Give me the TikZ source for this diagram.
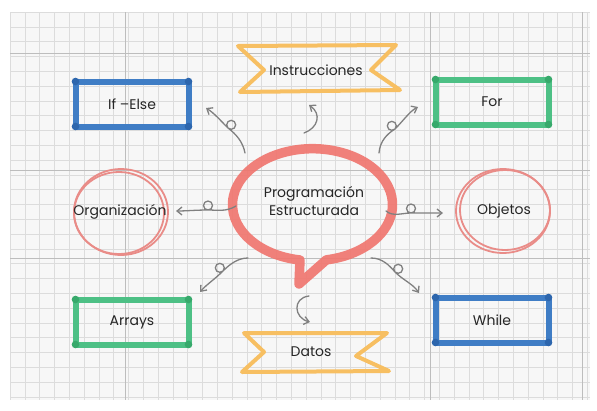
\documentclass[tikz,border=0pt]{standalone}
\usepackage{fontspec}
\setmainfont{Poppins}
\usetikzlibrary{arrows.meta}
\definecolor{gridbg}{HTML}{F7F7F7}
\definecolor{gridln}{HTML}{DCDCDC}
\definecolor{gridmaj}{HTML}{BDBDBD}
\definecolor{mblue}{HTML}{3F7DC5}
\definecolor{mbluedk}{HTML}{2D66AD}
\definecolor{mgreen}{HTML}{4DC085}
\definecolor{mgreendk}{HTML}{37A96B}
\definecolor{morange}{HTML}{F7BF62}
\definecolor{mred}{HTML}{F0746D}
\definecolor{mredlt}{HTML}{E98C88}
\definecolor{ink}{HTML}{262626}
\definecolor{curl}{HTML}{808080}
\begin{document}
\begin{tikzpicture}[x=1pt,y=-1pt,
  label/.style={font=\fontsize{14}{17}\selectfont, text=ink, inner sep=0pt},
  markbox/.style={draw=#1, line width=6pt, line join=round, outer sep=0pt,
    minimum width=113pt, minimum height=45pt,
    font=\fontsize{14}{17}\selectfont, text=ink},
  ribbon/.style={draw=morange, line width=4pt, line join=round, line cap=round},
  ring/.style={draw=mredlt, line width=1.8pt},
  conn/.style={draw=curl, line width=1.3pt, line cap=round, -{Straight Barb[length=5pt,width=8pt]}}]
\useasboundingbox (0,0) rectangle (597,410);
\fill[white] (0,0) rectangle (597,410);

% squared paper
\fill[gridbg] (10,12) rectangle (590,400);
\foreach \i in {0,...,39} \draw[gridln, line width=0.6pt] ({10+\i*14.8},12) -- ({10+\i*14.8},400);
\foreach \j in {0,...,26} \draw[gridln, line width=0.6pt] (10,{12+\j*14.8}) -- (590,{12+\j*14.8});
\foreach \y in {53,170,258} \draw[gridmaj, line width=0.6pt] (10,\y) -- (590,\y);
\foreach \x in {125,430,582} \draw[gridmaj, line width=0.6pt] (\x,12) -- (\x,400);

% central speech bubble
\draw[mred, line width=9.5pt, line join=round, opacity=0.9]
  (300,260) arc[start angle=99, end angle=440, x radius=80, y radius=56]
  -- (299,284) -- cycle;
\node[label, align=center] (center) at (314,201) {Programación\\[1pt]Estructurada};

% boxes
\node[markbox=mblue] (ifelse) at (132,104) {If –Else};
\node[markbox=mgreen] (for) at (492,102) {For};
\node[markbox=mgreen] (arrays) at (132,322) {Arrays};
\node[markbox=mblue] (while) at (492,320) {While};
\foreach \n/\c in {ifelse/mbluedk, for/mgreendk, arrays/mgreendk, while/mbluedk}
  \foreach \a in {north west, north east, south west, south east}
    \fill[\c] (\n.\a) circle (3.8pt);

% ribbons
\draw[ribbon] (238,46) -- (396,45) -- (371,70) -- (400,90) -- (240,92) -- (264,70) -- cycle;
\node[label] (instr) at (316,70) {Instrucciones};
\draw[ribbon] (244,333) -- (387,333) -- (356,356) -- (389,371) -- (242,372) -- (264,352) -- cycle;
\node[label] (datos) at (311,352) {Datos};

% rings
\draw[ring] (121,212) ellipse[x radius=47, y radius=43];
\draw[ring] (119,213) ellipse[x radius=45, y radius=41];
\node[label] (org) at (120,212) {Organización};
\draw[ring] (503,211) ellipse[x radius=47, y radius=42];
\draw[ring] (505,210) ellipse[x radius=45, y radius=40];
\node[label] (obj) at (504,211) {Objetos};

% connector ends
\coordinate (s1) at (245,153);  \coordinate (e1) at (206,108);
\coordinate (s2) at (304,133);  \coordinate (e2) at (309,105);
\coordinate (s3) at (379,153);  \coordinate (e3) at (418,107);
\coordinate (s4) at (236,206);  \coordinate (e4) at (176,211);
\coordinate (s5) at (386,211);  \coordinate (e5) at (443,213);
\coordinate (s6) at (248,258);  \coordinate (e6) at (200,292);
\coordinate (s7) at (309,296);  \coordinate (e7) at (310,322);
\coordinate (s8) at (371,258);  \coordinate (e8) at (419,293);

% curly connectors, each with a small loop on the way
\draw[conn] (s1) .. controls (243,142) and (236,134) .. (228,128)
  arc[start angle=135, delta angle=360, radius=4.5]
  .. controls (220,120) and (214,113) .. (e1);
\draw[conn] (s2) .. controls (318,128) and (322,114) .. (e2);
\draw[conn] (s3) .. controls (380,141) and (387,134) .. (395,129)
  arc[start angle=45, delta angle=-360, radius=4.5]
  .. controls (403,121) and (410,111) .. (e3);
\draw[conn] (s4) .. controls (226,212) and (218,210) .. (208,210)
  arc[start angle=90, delta angle=360, radius=4.5]
  .. controls (196,210) and (186,211) .. (e4);
\draw[conn] (s5) .. controls (393,217) and (402,213) .. (411,213)
  arc[start angle=90, delta angle=-360, radius=4.5]
  .. controls (423,213) and (433,213) .. (e5);
\draw[conn] (s6) .. controls (238,258) and (230,264) .. (223,271)
  arc[start angle=45, delta angle=360, radius=4.5]
  .. controls (215,279) and (206,285) .. (e6);
\draw[conn] (s7) .. controls (292,298) and (294,318) .. (e7);
\draw[conn] (s8) .. controls (382,258) and (389,265) .. (395,272)
  arc[start angle=135, delta angle=-360, radius=4.5]
  .. controls (403,280) and (413,284) .. (e8);
\end{tikzpicture}
\end{document}
